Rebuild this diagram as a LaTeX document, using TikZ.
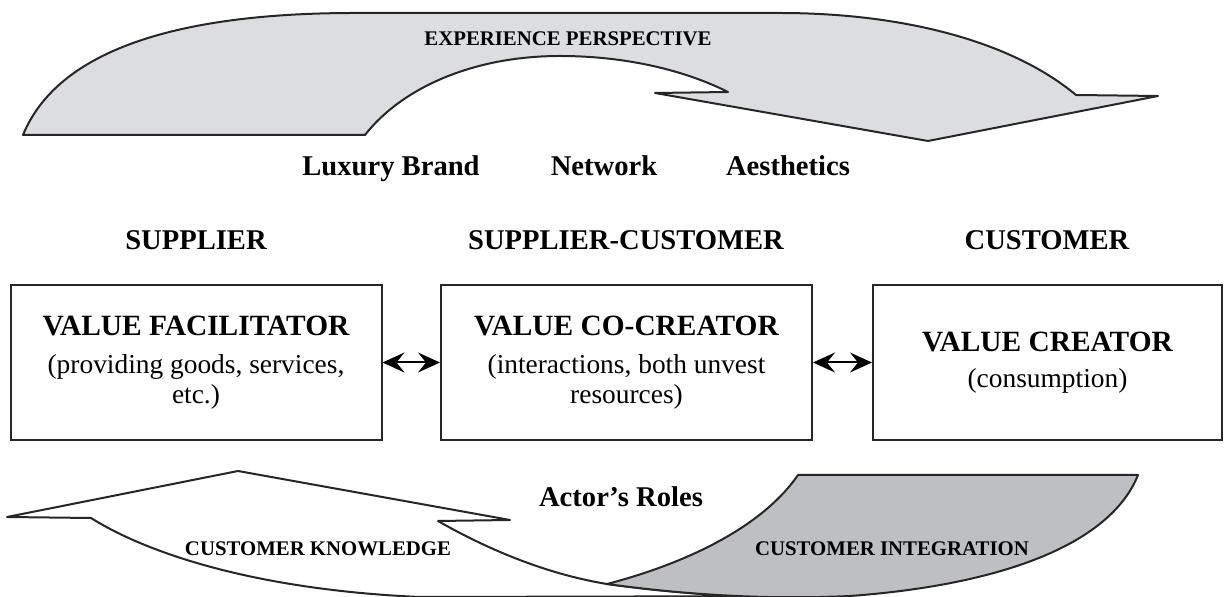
\documentclass[tikz,border=0pt]{standalone}
\usepackage{fontspec}
\setmainfont{Liberation Serif}
\usetikzlibrary{arrows.meta}
\usetikzlibrary{positioning}
\definecolor{topgray}{RGB}{219,221,224}
\definecolor{tailgray}{RGB}{190,191,194}

\begin{document}
\begin{tikzpicture}[x=0.5pt,y=-0.5pt,>={Stealth[length=11pt,width=10pt,inset=4pt]},
    outline/.style={draw=black!85,line width=1pt,line join=round},
    role box/.style={draw=black!85,line width=1pt,minimum height=77.5pt,inner sep=0pt,align=center,font=\fontsize{13.7}{15}\selectfont},
    head label/.style={font=\fontsize{14.3}{16}\selectfont\bfseries,text depth=0pt},
    flow label/.style={font=\fontsize{10.4}{12}\selectfont\bfseries}]
    \useasboundingbox (0,0) rectangle (1226,597);

    % experience arrow
    \path[outline,fill=topgray] (23,135) .. controls (60,45) and (190,13) .. (355,13) -- (780,13)
        .. controls (900,13) and (1010,40) .. (1076,95) -- (1158,96) -- (928,141) -- (655,93) -- (728,92)
        .. controls (680,68) and (620,56) .. (560,56) .. controls (470,56) and (400,90) .. (365,135) -- cycle;
    \node[flow label] (exp) at (568,39) {EXPERIENCE PERSPECTIVE};

    \node[head label] (brand) at (391,166) {Luxury Brand};
    \node[head label] (network) at (604,166) {Network};
    \node[head label] (aesth) at (788,166) {Aesthetics};

    \node[head label] (supplier) at (196,240) {SUPPLIER};
    \node[head label] (supcust) at (626,240) {SUPPLIER-CUSTOMER};
    \node[head label] (customer) at (1047,240) {CUSTOMER};

    \node[role box,minimum width=185.5pt] (facil) at (196,362.5)
        {{\fontsize{14.7}{15}\selectfont\bfseries VALUE FACILITATOR}\\[4pt](providing goods, services,\\etc.)};
    \node[role box,minimum width=185.5pt] (cocreat) at (626.5,362.5)
        {{\fontsize{14.7}{15}\selectfont\bfseries VALUE CO-CREATOR}\\[4pt](interactions, both unvest\\resources)};
    \node[role box,minimum width=174.5pt] (creat) at (1047.5,362.5)
        {{\fontsize{14.7}{15}\selectfont\bfseries VALUE CREATOR}\\[3pt](consumption)};
    \path[<->,line width=1pt] (facil) edge (cocreat);
    \path[<->,line width=1pt] (cocreat) edge (creat);

    % actor roles arrow
    \path[outline,fill=white] (7,517) -- (238,471) -- (510,520) -- (438,521)
        .. controls (480,545) and (540,573) .. (607,584) .. controls (680,594) and (760,600) .. (850,596)
        -- (420,597) .. controls (260,590) and (150,555) .. (91,518) -- cycle;
    \path[outline,fill=tailgray] (607,584) .. controls (680,565) and (760,530) .. (798,475) -- (1138,475)
        .. controls (1110,545) and (1000,585) .. (850,596) .. controls (760,600) and (680,594) .. (607,584) -- cycle;
    \node[head label] (roles) at (621,497) {Actor’s Roles};
    \node[flow label] (knowl) at (318,549) {CUSTOMER KNOWLEDGE};
    \node[flow label] (integr) at (892,549) {CUSTOMER INTEGRATION};
\end{tikzpicture}
\end{document}
